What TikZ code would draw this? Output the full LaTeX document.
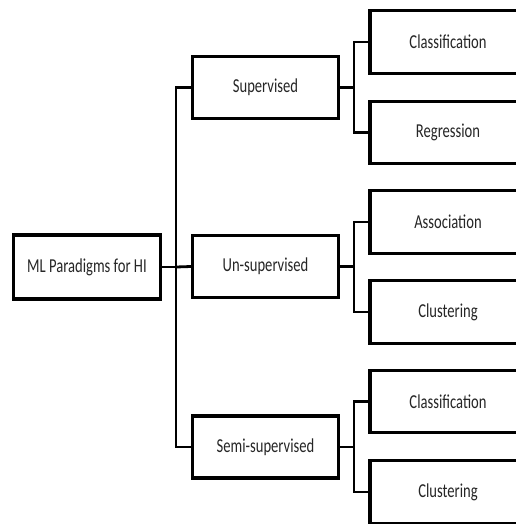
\documentclass[tikz,border=0pt]{standalone}
\usepackage{fontspec}
\setmainfont{Carlito}[FakeStretch=0.74]

\begin{document}
\begin{tikzpicture}[x=0.75pt, y=-0.75pt,
            box/.style={draw, rectangle, line width=2.3pt, fill=white, inner sep=0pt,
                        font=\fontsize{14.8}{17}\selectfont, text=black!85},
            rootbox/.style={box, minimum width=110.5pt, minimum height=48pt},
            midbox/.style={box, minimum width=109.5pt, minimum height=46.5pt},
            leafbox/.style={box, minimum width=117pt, minimum height=47pt},
            link/.style={line width=2.1pt}]
            \useasboundingbox (0, 0) rectangle (516, 524);
            \clip (0, 0) rectangle (516, 524);
            % root and second level
            \node[rootbox] (ml) at (87, 267) {ML Paradigms for HI};
            \node[midbox] (sup) at (265.5, 87.5) {Supervised};
            \node[midbox] (unsup) at (265.5, 266.5) {Un-supervised};
            \node[midbox] (semi) at (265.5, 447) {Semi-supervised};
            % leaves
            \foreach \name/\y/\txt in {supa/42/Classification, supb/132.5/Regression,
                                        unsupa/222/Association, unsupb/312/Clustering,
                                        semia/401.5/Classification, semib/492/Clustering}
                \node[leafbox] (\name) at (448, \y) {\txt};
            % bus from the root
            \coordinate (bus) at (176, 267);
            \draw[link] (ml.east) -- (bus);
            \draw[link] (bus) |- (sup.west);
            \draw[link] (bus) |- (semi.west);
            \draw[link] (bus) -- (unsup.west);
            % forks to the leaves
            \foreach \mid in {sup, unsup, semi} {
                \draw[link] (\mid.east) -- ++(14, 0) coordinate (\mid fork);
                \draw[link] (\mid fork) |- (\mid a.west);
                \draw[link] (\mid fork) |- (\mid b.west);
            }
        \end{tikzpicture}
\end{document}
